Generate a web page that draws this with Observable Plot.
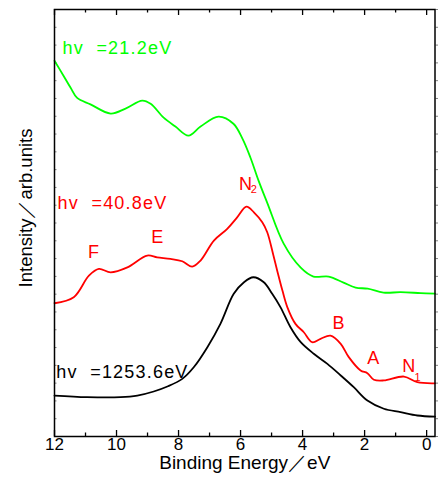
<!DOCTYPE html>
<html><head><meta charset="utf-8">
<script src="https://cdn.jsdelivr.net/npm/d3@7"></script>
<script src="https://cdn.jsdelivr.net/npm/@observablehq/plot@0.6"></script>
<style>body{margin:0;background:#fff} svg{display:block}</style>
</head><body><div id="chart"></div>
<script>
// Spectrum hv = 21.2 eV (green)
const energyGreen = [12, 11.71, 11.48, 11.27, 10.84, 10.19, 9.71, 9.17, 8.9, 8.48, 8.10, 7.68, 7.29, 6.71, 6.23, 5.94, 5.68, 5.42, 5.13, 4.61, 4.06, 3.65, 3.16, 2.68, 2.29, 1.90, 1.39, 0.84, 0.19, -0.27];
const intensityGreen = [21.12, 20.28, 19.6, 19.03, 18.67, 18.15, 18.43, 18.88, 18.7, 17.92, 17.42, 16.91, 17.42, 17.98, 17.58, 16.74, 15.67, 14.38, 13.09, 10.84, 9.49, 8.99, 8.99, 8.65, 8.37, 8.31, 8.09, 8.11, 8.06, 8.03];
// Spectrum hv = 40.8 eV (red)
const energyRed = [12, 11.38, 10.89, 10.57, 10.19, 9.65, 9.01, 8.69, 8.26, 7.88, 7.56, 7.29, 6.86, 6.43, 6.11, 5.81, 5.57, 5.30, 5.14, 4.94, 4.82, 4.65, 4.49, 4.23, 3.96, 3.69, 3.42, 3.10, 2.77, 2.51, 2.13, 1.91, 1.70, 1.38, 0.73, 0.30, -0.27];
const intensityRed = [7.49, 7.83, 9.04, 9.42, 9.23, 9.51, 10.17, 10.07, 9.98, 9.85, 9.55, 9.89, 11.01, 11.67, 12.32, 12.92, 12.60, 12.04, 11.48, 10.17, 9.33, 8.20, 7.26, 6.33, 5.86, 5.30, 5.49, 5.67, 5.21, 4.46, 3.71, 3.56, 3.19, 3.15, 3.37, 3.05, 2.99];
// Spectrum hv = 1253.6 eV (black)
const energyBlack = [12, 10.95, 9.87, 9.33, 8.80, 8.36, 7.88, 7.51, 7.07, 6.65, 6.22, 5.89, 5.59, 5.25, 4.98, 4.71, 4.39, 4.06, 3.64, 3.20, 2.77, 2.35, 1.91, 1.38, 0.84, 0.30, -0.27];
const intensityBlack = [2.30, 2.21, 2.21, 2.30, 2.53, 2.81, 3.24, 3.89, 5.02, 6.33, 8.02, 8.67, 8.95, 8.67, 8.02, 7.26, 6.14, 5.30, 4.65, 4.08, 3.43, 2.77, 2.02, 1.56, 1.37, 1.18, 1.12];

const seriesNames = ["21.2", "40.8", "1253.6"];
const seriesColors = ["#00ff00", "#ff0000", "#000000"];

// Labels of the spectra
const hvText = ["hv\u00a0\u00a0=21.2eV", "hv\u00a0\u00a0=40.8eV", "hv\u00a0\u00a0=1253.6eV"];
const hvEnergy = [11.74, 11.90, 11.94];
const hvIntensity = [21.5, 12.81, 3.31];

// Peak labels (red spectrum)
const peakText = ["F", "E", "N", "B", "A", "N"];
const peakEnergy = [10.74, 8.69, 5.84, 2.84, 1.72, 0.58];
const peakIntensity = [10.06, 10.90, 13.88, 6.07, 4.10, 3.60];
const subText = ["2", "1"];
const subEnergy = [5.57, 0.29];
const subIntensity = [13.71, 3.11];

// Axis ticks
const majorTicks = [12, 10, 8, 6, 4, 2, 0];
const minorTicks = [11, 9, 7, 5, 3, 1];
const yTicks = [0,1,2,3,4,5,6,7,8,9,10,11,12,13,14,15,16,17,18,19,20,21,22,23,24];

const xAxisLabel = "Binding Energy\uff0feV";
const yAxisLabel = "Intensity\uff0farb.units";

const toRows = (xs, ys, s) => xs.map((x, i) => ({energy: x, intensity: ys[i], series: s}));
const lines = [
  toRows(energyGreen, intensityGreen, seriesNames[0]),
  toRows(energyRed, intensityRed, seriesNames[1]),
  toRows(energyBlack, intensityBlack, seriesNames[2])
];
const hvRows = hvText.map((t, i) => ({t, x: hvEnergy[i], y: hvIntensity[i], c: seriesColors[i]}));
const peakRows = peakText.map((t, i) => ({t, x: peakEnergy[i], y: peakIntensity[i]}));
const subRows = subText.map((t, i) => ({t, x: subEnergy[i], y: subIntensity[i]}));

const W = 438, H = 479, mL = 54, mR = 3.5, mT = 9, mB = 43;
const innerH = H - mT - mB, innerW = W - mL - mR;
const font = "'Liberation Sans', Arial, sans-serif";

const chart = Plot.plot({
  width: W, height: H,
  marginLeft: mL, marginRight: mR, marginTop: mT, marginBottom: mB,
  style: {fontFamily: font, background: "#fff", overflow: "visible"},
  x: {domain: [12, -0.27]},
  y: {domain: [0, 24]},
  marks: [
    // y ticks (gray, unlabeled)
    Plot.tickY(yTicks, {y: d => d, stroke: "#808080", strokeWidth: 1, insetRight: innerW - 2.5}),
    Plot.axisY(yTicks, {anchor: "right", tickSize: 2.5, stroke: "#808080", tickFormat: () => "", label: null}),
    // x ticks, inward, bottom and top
    Plot.tickX(majorTicks, {x: d => d, stroke: "#000", strokeWidth: 1.3, insetTop: innerH - 6}),
    Plot.tickX(minorTicks, {x: d => d, stroke: "#000", strokeWidth: 1.3, insetTop: innerH - 3.5}),
    Plot.tickX(majorTicks, {x: d => d, stroke: "#000", strokeWidth: 1.3, insetBottom: innerH - 6}),
    Plot.tickX(minorTicks, {x: d => d, stroke: "#000", strokeWidth: 1.3, insetBottom: innerH - 3.5}),
    Plot.axisX(majorTicks, {anchor: "bottom", tickSize: 0, tickPadding: 1, fontSize: 17, fill: "#000", label: null}),
    // spectra
    ...lines.map((rows, i) => Plot.line(rows, {x: "energy", y: "intensity", stroke: seriesColors[i], strokeWidth: 1.8, curve: "catmull-rom"})),
    Plot.frame({stroke: "#000", strokeWidth: 1.5}),
    // labels
    Plot.text(hvRows, {x: "x", y: "y", text: "t", fill: d => d.c, textAnchor: "start", lineAnchor: "bottom", fontSize: 18}),
    Plot.text(peakRows, {x: "x", y: "y", text: "t", fill: "#ff0000", textAnchor: "middle", lineAnchor: "bottom", fontSize: 18}),
    Plot.text(subRows, {x: "x", y: "y", text: "t", fill: "#ff0000", textAnchor: "middle", lineAnchor: "bottom", fontSize: 11}),
    Plot.text([xAxisLabel], {frameAnchor: "bottom", dy: 19, lineAnchor: "top", textAnchor: "middle", fontSize: 19, fill: "#000"}),
    Plot.text([yAxisLabel], {frameAnchor: "left", rotate: -90, dx: -23, dy: -15, lineAnchor: "bottom", textAnchor: "middle", fontSize: 18.5, fill: "#000"})
  ]
});
d3.select(chart).selectAll("text").filter(function() { return this.textContent.startsWith("hv"); }).style("letter-spacing", "1.2px");
document.getElementById("chart").appendChild(chart);
</script>
</body></html>
